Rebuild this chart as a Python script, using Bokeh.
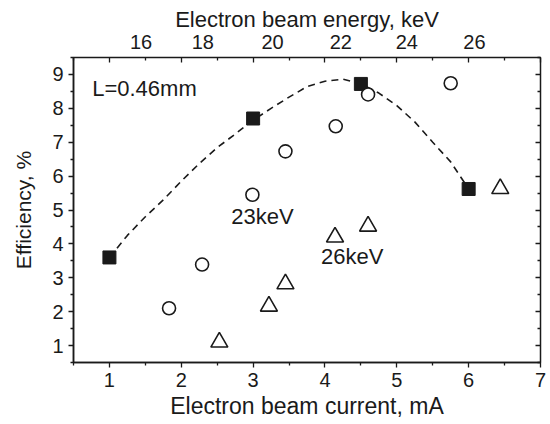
from bokeh.plotting import figure
from bokeh.models import Range1d, LinearAxis, FixedTicker, CustomJSTickFormatter
from bokeh.core.properties import value
from bokeh.embed import file_html
from bokeh.resources import INLINE

# ---- data ----
# filled squares: L = 0.46 mm, efficiency vs beam current
sq_current = [1.0, 3.0, 4.5, 6.0]
sq_eff = [3.6, 7.7, 8.72, 5.62]
# open circles: 23 keV
c23_current = [1.83, 2.29, 2.99, 3.45, 4.15, 4.6, 5.75]
c23_eff = [2.1, 3.39, 5.45, 6.73, 7.47, 8.41, 8.74]
# open triangles: 26 keV
t26_current = [2.53, 3.22, 3.45, 4.14, 4.6, 6.44]
t26_eff = [1.1, 2.16, 2.82, 4.2, 4.52, 5.63]
# dashed guide curve through the squares
fit_current = [1.0, 1.25, 1.5, 1.75, 2.0, 2.25, 2.5, 2.75, 3.0, 3.25, 3.5,
               3.75, 4.0, 4.25, 4.5, 4.75, 5.0, 5.25, 5.5, 5.75, 6.0]
fit_eff = [3.6, 4.25, 4.8, 5.3, 5.85, 6.37, 6.84, 7.24, 7.65, 8.0, 8.33,
           8.64, 8.8, 8.86, 8.72, 8.45, 8.08, 7.6, 7.0, 6.42, 5.62]

# tick labels
x_ticks = [1, 2, 3, 4, 5, 6, 7]
x_minor = [0.5, 1.5, 2.5, 3.5, 4.5, 5.5, 6.5]
y_ticks = [1, 2, 3, 4, 5, 6, 7, 8, 9]
y_minor = [0.5, 1.5, 2.5, 3.5, 4.5, 5.5, 6.5, 7.5, 8.5, 9.5]
energy_labels = ["16", "18", "20", "22", "24", "26"]
energy_pos_mA = [1.44, 2.30, 3.27, 4.22, 5.14, 6.08]

FONT = "Liberation Sans"
INK = "#1a1a1a"

p = figure(width=550, height=424, output_backend="svg", toolbar_location=None,
           x_range=Range1d(0.5, 7.0), y_range=Range1d(0.5, 9.5),
           min_border_left=73, min_border_right=10, min_border_top=57,
           min_border_bottom=62)
p.grid.visible = False
p.outline_line_color = INK
p.outline_line_width = 1.5
p.background_fill_color = "white"
p.border_fill_color = "white"

def style_axis(ax):
    ax.axis_line_color = INK
    ax.axis_line_width = 1.5
    ax.major_tick_line_color = INK
    ax.minor_tick_line_color = INK
    ax.major_tick_line_width = 1.3
    ax.minor_tick_line_width = 1.3
    ax.major_label_text_font = FONT
    ax.major_label_text_font_size = "20px"
    ax.major_label_text_color = INK
    ax.axis_label_text_font = FONT
    ax.axis_label_text_font_style = "normal"
    ax.axis_label_text_color = INK

# bottom axis
xa = p.xaxis[0]
style_axis(xa)
xa.ticker = FixedTicker(ticks=x_ticks, minor_ticks=x_minor)
xa.major_tick_out = 5
xa.major_tick_in = 0
xa.minor_tick_out = 3
xa.minor_tick_in = 0
xa.major_label_standoff = 5
xa.axis_label = "Electron beam current, mA"
xa.axis_label_text_font_size = "23px"
xa.axis_label_standoff = 3

# left axis
ya = p.yaxis[0]
style_axis(ya)
ya.ticker = FixedTicker(ticks=y_ticks, minor_ticks=y_minor)
ya.major_tick_out = 5
ya.major_tick_in = 0
ya.minor_tick_out = 3
ya.minor_tick_in = 0
ya.major_label_standoff = 5
ya.axis_label = "Efficiency, %"
ya.axis_label_text_font_size = "21px"
ya.axis_label_standoff = 14

def tick_only_axis(positions, length):
    # no major ticks -> no labels; marks drawn as (inward) minor ticks
    ax = LinearAxis(ticker=FixedTicker(ticks=[], minor_ticks=positions))
    style_axis(ax)
    ax.axis_line_color = None
    ax.major_tick_in = 0
    ax.major_tick_out = 0
    ax.minor_tick_in = length
    ax.minor_tick_out = 0
    ax.major_label_standoff = 0
    return ax

# top: tick marks mirroring the bottom axis (inward)
p.add_layout(tick_only_axis(x_ticks, 5), "above")
p.add_layout(tick_only_axis(x_minor, 3), "above")

# top: energy labels
top_lab = LinearAxis(ticker=FixedTicker(ticks=energy_pos_mA, minor_ticks=[]),
                     formatter=CustomJSTickFormatter(args=dict(labels=energy_labels),
                                                     code="return labels[index];"))
style_axis(top_lab)
top_lab.axis_line_color = None
top_lab.major_tick_in = 0
top_lab.major_tick_out = 0
top_lab.major_label_standoff = 9
top_lab.axis_label = "Electron beam energy, keV"
top_lab.axis_label_text_font_size = "22px"
top_lab.axis_label_standoff = 0
p.add_layout(top_lab, "above")

# right: tick marks (inward)
p.add_layout(tick_only_axis(y_ticks, 5), "right")
p.add_layout(tick_only_axis(y_minor, 3), "right")

# data
p.line(fit_current, fit_eff, line_color=INK, line_width=1.6, line_dash="7 5")
p.scatter(sq_current, sq_eff, marker="square", size=13,
          fill_color=INK, line_color=INK)
p.scatter(c23_current, c23_eff, marker="circle", size=13,
          fill_color="white", line_color=INK, line_width=1.6)
p.scatter(t26_current, t26_eff, marker="triangle", size=17,
          fill_color="white", line_color=INK, line_width=1.6)

# annotations
note_text = ["L=0.46mm", "23keV", "26keV"]
note_x = [0.76, 3.13, 4.38]
note_y = [8.6, 4.81, 3.63]
note_align = ["left", "center", "center"]
p.text(x=note_x, y=note_y, text=note_text, text_align=note_align,
       text_baseline="middle", text_font=value(FONT), text_font_size="22px",
       text_color=INK)

open("out.html", "w").write(file_html(p, INLINE))
